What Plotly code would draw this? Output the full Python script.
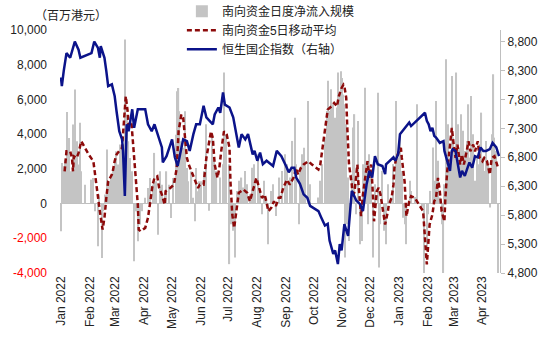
import plotly.graph_objects as go

# ---------------- data ----------------
bar_dates = [
    "2022-01-03", "2022-01-04", "2022-01-05", "2022-01-07", "2022-01-10", "2022-01-12", "2022-01-14", "2022-01-16",
    "2022-01-18", "2022-01-20", "2022-01-22", "2022-01-24", "2022-01-25", "2022-01-29", "2022-02-05", "2022-02-07",
    "2022-02-09", "2022-02-12", "2022-02-13", "2022-02-16", "2022-02-18", "2022-02-20", "2022-02-22", "2022-02-24",
    "2022-02-26", "2022-02-28", "2022-03-02", "2022-03-04", "2022-03-06", "2022-03-08", "2022-03-09", "2022-03-11",
    "2022-03-13", "2022-03-15", "2022-03-17", "2022-03-19", "2022-03-21", "2022-03-23", "2022-03-25", "2022-03-27",
    "2022-03-29", "2022-04-01", "2022-04-04", "2022-04-07", "2022-04-09", "2022-04-12", "2022-04-14", "2022-04-16",
    "2022-04-18", "2022-04-20", "2022-04-22", "2022-04-25", "2022-04-27", "2022-04-30", "2022-05-02", "2022-05-04",
    "2022-05-07", "2022-05-08", "2022-05-10", "2022-05-11", "2022-05-13", "2022-05-15", "2022-05-17", "2022-05-19",
    "2022-05-20", "2022-05-24", "2022-05-26", "2022-05-28", "2022-05-29", "2022-05-31", "2022-06-01", "2022-06-03",
    "2022-06-06", "2022-06-09", "2022-06-12", "2022-06-15", "2022-06-17", "2022-06-20", "2022-06-24", "2022-06-27",
    "2022-06-28", "2022-06-30", "2022-07-03", "2022-07-04", "2022-07-06", "2022-07-08", "2022-07-10", "2022-07-12",
    "2022-07-14", "2022-07-17", "2022-07-19", "2022-07-21", "2022-07-23", "2022-07-26", "2022-07-28", "2022-07-30",
    "2022-08-01", "2022-08-04", "2022-08-06", "2022-08-08", "2022-08-10", "2022-08-13", "2022-08-15", "2022-08-18",
    "2022-08-20", "2022-08-23", "2022-08-26", "2022-08-27", "2022-08-30", "2022-09-02", "2022-09-04", "2022-09-07",
    "2022-09-10", "2022-09-13", "2022-09-14", "2022-09-17", "2022-09-18", "2022-09-20", "2022-09-22", "2022-09-24",
    "2022-09-27", "2022-09-29", "2022-10-08", "2022-10-10", "2022-10-12", "2022-10-15", "2022-10-17", "2022-10-18",
    "2022-10-20", "2022-10-22", "2022-10-24", "2022-10-26", "2022-10-28", "2022-10-29", "2022-10-30", "2022-11-01",
    "2022-11-02", "2022-11-04", "2022-11-05", "2022-11-06", "2022-11-07", "2022-11-08", "2022-11-09", "2022-11-10",
    "2022-11-13", "2022-11-14", "2022-11-16", "2022-11-18", "2022-11-20", "2022-11-22", "2022-11-24", "2022-11-25",
    "2022-11-27", "2022-11-29", "2022-12-01", "2022-12-02", "2022-12-04", "2022-12-06", "2022-12-08", "2022-12-11",
    "2022-12-12", "2022-12-14", "2022-12-16", "2022-12-18", "2022-12-20", "2022-12-22", "2022-12-25", "2022-12-28",
    "2022-12-31", "2023-01-02", "2023-01-04", "2023-01-06", "2023-01-07", "2023-01-09", "2023-01-11", "2023-01-13",
    "2023-01-15", "2023-01-16", "2023-01-20", "2023-01-22", "2023-01-28", "2023-01-30", "2023-02-02", "2023-02-03",
    "2023-02-06", "2023-02-09", "2023-02-11", "2023-02-12", "2023-02-14", "2023-02-16", "2023-02-18", "2023-02-20",
    "2023-02-21", "2023-02-23", "2023-02-25", "2023-02-27", "2023-03-01", "2023-03-02", "2023-03-04", "2023-03-06",
    "2023-03-08", "2023-03-10", "2023-03-11", "2023-03-13", "2023-03-15", "2023-03-17", "2023-03-19", "2023-03-20",
    "2023-03-22", "2023-03-24", "2023-03-26", "2023-03-28", "2023-03-29", "2023-03-31", "2023-04-02", "2023-04-04",
    "2023-04-06", "2023-04-07", "2023-04-09", "2023-04-11", "2023-04-13", "2023-04-15", "2023-04-16", "2023-04-18",
    "2023-04-20",
]
bar_values = [
    -1600, 2340, 2150, 2530, 5280, 3780, 1860, 4550,
    6570, 3590, 2250, 4650, 1860, 1090, 1380, 1480,
    -440, -2460, 520, -3130, -440, 520, 3110, 1290,
    1670, 2050, 2630, 3010, 2250, 3400, 3110, 3010,
    9450, 5130, 3590, 2630, 1860, -3320, -440, -2170,
    -1210, -440, 330, 900, 1480, 1090, 2920, 1290,
    -1790, 1860, 1090, 520, 1860, 1090, -830, 1480,
    3970, 6470, 6660, 5320, 3590, 3210, 5320, 2050,
    1290, 1860, 330, -1020, 2050, 710, 1290, 1290,
    1880, 4570, -420, 3990, 2460, 1880, 1500, 2270,
    7550, 3990, 2270, -3490, -1190, -1570, -3110, 730,
    1310, 1500, 920, 1880, 1110, 540, 2070, 2270,
    1110, 2840, 730, -610, 1310, 350, -2340, 730,
    1110, -710, 730, 1500, 1880, 2840, 2270, 1500,
    3610, 4950, 2270, -1190, 2070, 2840, 3220, 2270,
    5910, 1110, 350, 1310, 2270, 3800, 5340, 7070,
    5340, 6590, 5720, 4950, 5530, 7550, 6200, 7620,
    7240, 6280, 5720, -3110, 4570, -1190, 1500, -2150,
    1690, 4380, 5150, -610, 4760, -2340, -2150, 2270,
    6680, 2460, -1190, 2840, 1690, -3110, 1110, 6390,
    -3690, -1190, 1880, -1570, -2340, 1110, 350, 2270,
    5910, 2650, 3990, 1880, -810, -1190, -2340, -40,
    1310, 730, 380, 5720, -190, -4070, -2730, -610,
    730, 3230, 1310, 5910, 2460, 350, -1190, -4070,
    1110, 8310, 4570, 2650, 7350, 3800, 3030, 7550,
    4570, 3230, 5150, 4190, 3030, 3610, 5720, 2650,
    6200, 3990, 1310, 2650, 2270, 3420, 5240, 2650,
    1880, 3610, 2270, -230, 3990, 7450, 3800, 3030,
    -4260,
]

ma_dates = [
    "2022-01-07", "2022-01-09", "2022-01-13", "2022-01-15", "2022-01-16", "2022-01-17", "2022-01-20", "2022-01-22",
    "2022-01-25", "2022-02-02", "2022-02-07", "2022-02-11", "2022-02-14", "2022-02-17", "2022-02-19", "2022-02-21",
    "2022-02-23", "2022-02-27", "2022-02-28", "2022-03-02", "2022-03-04", "2022-03-08", "2022-03-10", "2022-03-11",
    "2022-03-14", "2022-03-16", "2022-03-17", "2022-03-20", "2022-03-21", "2022-03-24", "2022-03-27", "2022-03-28",
    "2022-03-30", "2022-04-04", "2022-04-07", "2022-04-09", "2022-04-12", "2022-04-14", "2022-04-17", "2022-04-19",
    "2022-04-22", "2022-04-25", "2022-04-26", "2022-05-01", "2022-05-05", "2022-05-08", "2022-05-10", "2022-05-13",
    "2022-05-15", "2022-05-17", "2022-05-19", "2022-05-21", "2022-05-24", "2022-05-28", "2022-05-31", "2022-06-02",
    "2022-06-06", "2022-06-09", "2022-06-14", "2022-06-16", "2022-06-18", "2022-06-21", "2022-06-23", "2022-06-25",
    "2022-06-28", "2022-07-01", "2022-07-04", "2022-07-05", "2022-07-07", "2022-07-09", "2022-07-12", "2022-07-14",
    "2022-07-19", "2022-07-23", "2022-07-26", "2022-07-30", "2022-08-02", "2022-08-05", "2022-08-08", "2022-08-11",
    "2022-08-15", "2022-08-18", "2022-08-21", "2022-08-23", "2022-08-26", "2022-08-28", "2022-08-31", "2022-09-04",
    "2022-09-07", "2022-09-11", "2022-09-14", "2022-09-16", "2022-09-19", "2022-09-22", "2022-09-27", "2022-10-01",
    "2022-10-08", "2022-10-10", "2022-10-14", "2022-10-18", "2022-10-22", "2022-10-25", "2022-10-28", "2022-10-30",
    "2022-11-02", "2022-11-04", "2022-11-05", "2022-11-07", "2022-11-08", "2022-11-10", "2022-11-13", "2022-11-14",
    "2022-11-16", "2022-11-19", "2022-11-20", "2022-11-23", "2022-11-25", "2022-11-28", "2022-11-30", "2022-12-02",
    "2022-12-04", "2022-12-06", "2022-12-07", "2022-12-10", "2022-12-12", "2022-12-14", "2022-12-16", "2022-12-18",
    "2022-12-19", "2022-12-22", "2022-12-23", "2022-12-26", "2022-12-28", "2022-12-29", "2022-12-31", "2023-01-03",
    "2023-01-05", "2023-01-06", "2023-01-09", "2023-01-11", "2023-01-14", "2023-01-16", "2023-01-20", "2023-01-29",
    "2023-01-31", "2023-02-02", "2023-02-03", "2023-02-05", "2023-02-08", "2023-02-10", "2023-02-12", "2023-02-14",
    "2023-02-16", "2023-02-18", "2023-02-21", "2023-02-22", "2023-02-24", "2023-02-27", "2023-03-01", "2023-03-03",
    "2023-03-05", "2023-03-07", "2023-03-10", "2023-03-12", "2023-03-14", "2023-03-17", "2023-03-19", "2023-03-21",
    "2023-03-24", "2023-03-26", "2023-03-29", "2023-03-31", "2023-04-03", "2023-04-05", "2023-04-08", "2023-04-11",
    "2023-04-13", "2023-04-16", "2023-04-18", "2023-04-20",
]
ma_values = [
    1860, 3010, 3010, 2630, 1860, 2725, 2630, 2920,
    3590, 2820, 2440, 710, -440, -1500, -820, 330,
    1280, 1670, 1860, 2440, 2820, 3110, 3210, 3970,
    6180, 5320, 4550, 4740, 3970, 1670, -60, -1500,
    -1590, -1400, -820, -60, 1090, 1480, 1570, 900,
    520, -60, 710, 900, 1090, 2050, 4160, 5130,
    4940, 3780, 2630, 2250, 1860, 1280, 900, 1090,
    1090, 2630, 4160, 3780, 2250, 1480, 2050, 3010,
    4160, 3970, 3210, 1280, -630, -1400, -250, 620,
    810, 620, 135, 900, 1480, 900, 330, 520,
    -440, -250, 135, -150, 330, 330, 900, 1380,
    1090, 1480, 2050, 1670, 2050, 2250, 2440, 2250,
    1960, 2250, 3780, 5410, 5600, 5800, 5600, 6180,
    6660, 6850, 6760, 6090, 4550, 2250, 1090, 330,
    710, 2250, 1280, -730, 520, 1860, 2440, 1480,
    2250, 330, -1020, 710, 900, 520, -150, -630,
    -1210, -440, -60, 330, 1090, 2050, 2630, 3010,
    3210, 2630, 1280, -730, 135, 420, 330, -440,
    -1790, -3510, -2750, -1210, -630, 135, 330, 1480,
    710, -440, -1020, 330, 1860, 3210, 4360, 3400,
    2630, 3400, 2250, 2820, 2250, 3010, 3590, 3010,
    3400, 3010, 3590, 2630, 2440, 2630, 2440, 1670,
    2630, 2730, 2440, 2050,
]

idx_dates = [
    "2022-01-03", "2022-01-04", "2022-01-06", "2022-01-09", "2022-01-13", "2022-01-18", "2022-01-22", "2022-01-24",
    "2022-02-05", "2022-02-08", "2022-02-12", "2022-02-14", "2022-02-15", "2022-02-19", "2022-02-21", "2022-02-23",
    "2022-02-27", "2022-03-02", "2022-03-04", "2022-03-07", "2022-03-10", "2022-03-11", "2022-03-13", "2022-03-15",
    "2022-03-17", "2022-03-21", "2022-03-23", "2022-03-27", "2022-04-04", "2022-04-07", "2022-04-11", "2022-04-14",
    "2022-04-22", "2022-04-23", "2022-04-27", "2022-05-03", "2022-05-06", "2022-05-09", "2022-05-11", "2022-05-15",
    "2022-05-19", "2022-05-22", "2022-05-26", "2022-05-29", "2022-06-02", "2022-06-04", "2022-06-06", "2022-06-09",
    "2022-06-13", "2022-06-16", "2022-06-18", "2022-06-22", "2022-06-24", "2022-06-27", "2022-06-29", "2022-07-04",
    "2022-07-08", "2022-07-11", "2022-07-14", "2022-07-17", "2022-07-21", "2022-07-24", "2022-07-26", "2022-07-29",
    "2022-07-31", "2022-08-03", "2022-08-06", "2022-08-09", "2022-08-13", "2022-08-20", "2022-08-24", "2022-08-29",
    "2022-09-03", "2022-09-06", "2022-09-09", "2022-09-12", "2022-09-14", "2022-09-18", "2022-09-22", "2022-09-26",
    "2022-09-29", "2022-10-08", "2022-10-11", "2022-10-15", "2022-10-18", "2022-10-20", "2022-10-24", "2022-10-26",
    "2022-10-29", "2022-10-31", "2022-11-02", "2022-11-04", "2022-11-05", "2022-11-09", "2022-11-11", "2022-11-13",
    "2022-11-18", "2022-11-22", "2022-11-25", "2022-11-29", "2022-12-02", "2022-12-05", "2022-12-08", "2022-12-11",
    "2022-12-16", "2022-12-19", "2022-12-20", "2022-12-24", "2022-12-28", "2022-12-30", "2023-01-02", "2023-01-04",
    "2023-01-09", "2023-01-14", "2023-01-16", "2023-01-31", "2023-02-02", "2023-02-04", "2023-02-06", "2023-02-08",
    "2023-02-10", "2023-02-12", "2023-02-16", "2023-02-20", "2023-02-21", "2023-02-25", "2023-02-27", "2023-03-01",
    "2023-03-02", "2023-03-05", "2023-03-08", "2023-03-10", "2023-03-12", "2023-03-15", "2023-03-18", "2023-03-20",
    "2023-03-23", "2023-03-26", "2023-03-29", "2023-04-01", "2023-04-04", "2023-04-07", "2023-04-11", "2023-04-14",
    "2023-04-18", "2023-04-21",
]
idx_values = [
    8180, 8030, 8290, 8600, 8520, 8800, 8660, 8520,
    8600, 8800, 8690, 8520, 8720, 8520, 8290, 8030,
    8060, 7860, 7600, 7250, 7110, 6910, 6130, 7370,
    7250, 7630, 7310, 7630, 7630, 7370, 7250, 7370,
    6970, 6710, 6820, 7110, 6800, 6650, 6800, 7110,
    7080, 6910, 7200, 7370, 7370, 7540, 7690, 7490,
    7430, 7370, 7540, 7660, 7570, 7920, 7710, 7660,
    7490, 7250, 6970, 7200, 7110, 7200, 7080, 6850,
    6910, 6740, 6880, 6680, 6740, 6650, 6910, 6820,
    6650, 6540, 6620, 6620, 6450, 6340, 6160, 6100,
    5960, 5870, 5760, 5620, 5650, 5360, 5130, 5190,
    4955, 5300, 5190, 5470, 5645, 5440, 5900, 6220,
    6050, 5990, 5870, 6335, 6565, 6450, 6820, 6680,
    6650, 6510, 6680, 6740, 6800, 6740, 6850, 7200,
    7310, 7400, 7340, 7570, 7430, 7370, 7250, 7310,
    7170, 7140, 7050, 7080, 6910, 6680, 6565, 6910,
    6940, 6910, 6620, 6450, 6565, 6480, 6620, 6710,
    6620, 6820, 6800, 6970, 6910, 6910, 6940, 7050,
    6970, 6820,
]

month_ticks = [
    "2022-01-03", "2022-02-03", "2022-03-03", "2022-04-03", "2022-05-03", "2022-06-03", "2022-07-03", "2022-08-03",
    "2022-09-03", "2022-10-03", "2022-11-03", "2022-12-03", "2023-01-03", "2023-02-03", "2023-03-03", "2023-04-03",
]
month_labels = [
    "Jan 2022", "Feb 2022", "Mar 2022", "Apr 2022", "May 2022", "Jun 2022", "Jul 2022", "Aug 2022",
    "Sep 2022", "Oct 2022", "Nov 2022", "Dec 2022", "Jan 2023", "Feb 2023", "Mar 2023", "Apr 2023",
]

left_ticks = [-4000, -2000, 0, 2000, 4000, 6000, 8000, 10000]
left_labels = ["<span style='color:#FF0000'>-4,000</span>", "<span style='color:#FF0000'>-2,000</span>",
               "0", "2,000", "4,000", "6,000", "8,000", "10,000"]
right_ticks = [4800, 5300, 5800, 6300, 6800, 7300, 7800, 8300, 8800]

names = ["南向资金日度净流入规模", "南向资金5日移动平均", "恒生国企指数（右轴）"]
unit_label = "（百万港元）"

# ---------------- figure ----------------
FONT = "Liberation Sans, Arial, Noto Sans CJK SC, sans-serif"
DAY_MS = 86400000

fig = go.Figure()
fig.add_trace(go.Bar(
    x=bar_dates, y=bar_values, name=names[0],
    marker=dict(color="#C4C4C4", line=dict(width=0)),
    width=1.25 * DAY_MS, yaxis="y",
))
fig.add_trace(go.Scatter(
    x=ma_dates, y=ma_values, name=names[1], mode="lines",
    line=dict(color="#8C0A0A", width=2.5, dash="5px,3px"), yaxis="y",
))
fig.add_trace(go.Scatter(
    x=idx_dates, y=idx_values, name=names[2], mode="lines",
    line=dict(color="#0B138A", width=2.5), yaxis="y2",
))

fig.update_layout(
    width=550, height=339,
    margin=dict(l=60, r=50, t=30, b=66, autoexpand=False),
    paper_bgcolor="white", plot_bgcolor="white",
    font=dict(family=FONT, size=12, color="#222222"),
    showlegend=True,
    legend=dict(
        x=0.277, y=1.137, xanchor="left", yanchor="top",
        bgcolor="rgba(0,0,0,0)", font=dict(size=12, color="#222222"),
        itemwidth=30, tracegroupgap=0,
    ),
    xaxis=dict(
        type="date", range=["2022-01-02", "2023-04-22"],
        tickmode="array", tickvals=month_ticks, ticktext=month_labels,
        tickangle=-90, showgrid=False, showline=False, zeroline=False, ticks="",
        tickfont=dict(size=12, color="#222222"),
    ),
    yaxis=dict(
        range=[-4000, 10000], tickmode="array", tickvals=left_ticks, ticktext=left_labels,
        showgrid=False, showline=False, ticks="",
        zeroline=True, zerolinecolor="#BFBFBF", zerolinewidth=1,
        ticklabelstandoff=12, tickfont=dict(size=12, color="#222222"),
    ),
    yaxis2=dict(
        overlaying="y", side="right", range=[4800, 9000],
        tickmode="array", tickvals=right_ticks, tickformat=",d",
        showgrid=False, zeroline=False,
        showline=True, linecolor="#BFBFBF", linewidth=1,
        ticks="outside", ticklen=4, tickcolor="#BFBFBF",
        tickfont=dict(size=12, color="#222222"),
    ),
    annotations=[dict(
        text=unit_label, xref="paper", yref="paper", x=-0.061, y=1.058,
        xanchor="left", yanchor="middle", showarrow=False,
        font=dict(size=12, color="#222222"),
    )],
)

fig.write_html("out.html")
